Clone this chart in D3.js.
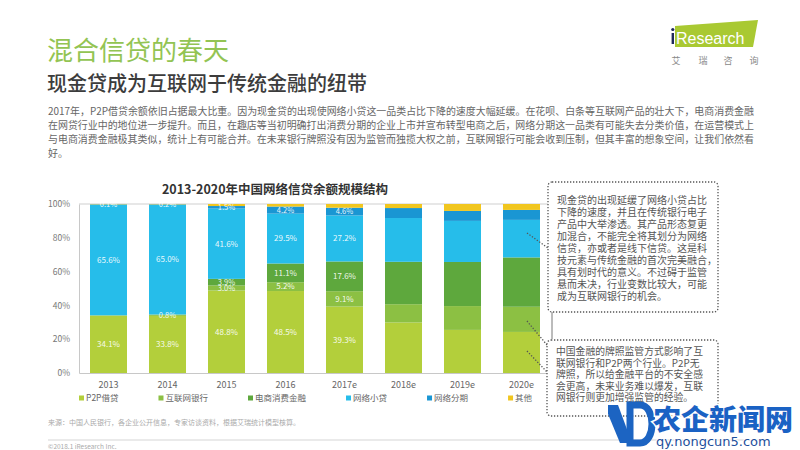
<!DOCTYPE html>
<html><head><meta charset="utf-8">
<script src="https://cdn.jsdelivr.net/npm/d3@7"></script>
<style>
html,body{margin:0;padding:0;background:#fff;}
svg{display:block;font-family:"Noto Sans CJK SC","Noto Sans",sans-serif;}
</style></head><body>
<svg id="c" width="800" height="450"></svg>
<script>
// ---- data ----
const years = ["2013","2014","2015","2016","2017e","2018e","2019e","2020e"];
const seriesNames = ["P2P借贷","互联网银行","电商消费金融","网络小贷","网络分期","其他"];
const p2p     = [34.1, 33.8, 48.8, 48.5, 39.3, 29.9, 25.5, 24.3];
const bank    = [0,    0.8,  3.0,  5.2,  9.1,  10.8, 14.1, 14.9];
const ecom    = [0,    0,    3.9,  11.1, 17.6, 25.1, 26.1, 29.2];
const micro   = [65.6, 65.0, 41.6, 29.5, 27.2, 25.9, 24.3, 22.2];
const install = [0.1,  0.2,  1.5,  4.2,  4.6,  5.9,  5.9,  5.9];
const other   = [0.2,  0.2,  1.2,  1.5,  2.2,  2.4,  4.1,  3.5];
const labeledYears = ["2013","2014","2015","2016","2017e"];
const yTicks = [0, 20, 40, 60, 80, 100];
const colors = ["#b3cf3b","#8cc043","#5ea83d","#26bdea","#1a96d3","#f1c61f"];

const paragraph = [
  "2017年，P2P借贷余额依旧占据最大比重。因为现金贷的出现使网络小贷这一品类占比下降的速度大幅延缓。在花呗、白条等互联网产品的壮大下，电商消费金融",
  "在网贷行业中的地位进一步提升。而且，在趣店等当初明确打出消费分期的企业上市并宣布转型电商之后，网络分期这一品类有可能失去分类价值，在运营模式上",
  "与电商消费金融极其类似，统计上有可能合并。在未来银行牌照没有因为监管而独揽大权之前，互联网银行可能会收到压制，但其丰富的想象空间，让我们依然看",
  "好。"
];
const note1 = [
  "现金贷的出现延缓了网络小贷占比",
  "下降的速度，并且在传统银行电子",
  "产品中大举渗透。其产品形态复更",
  "加混合，不能完全将其划分为网络",
  "信贷，亦或者是线下信贷。这是科",
  "技元素与传统金融的首次完美融合，",
  "具有划时代的意义。不过碍于监管",
  "悬而未决，行业变数比较大，可能",
  "成为互联网银行的机会。"
];
const note2 = [
  "中国金融的牌照监管方式影响了互",
  "联网银行和P2P两个行业。P2P无",
  "牌照，所以给金融平台的不安全感",
  "会更高，未来业务难以爆发，互联",
  "网银行则更加增强监管的经验。"
];

// ---- build ----
const svg = d3.select("#c");
const rows = years.map((y,i)=>({year:y, s0:p2p[i], s1:bank[i], s2:ecom[i], s3:micro[i], s4:install[i], s5:other[i]}));
const keys = ["s0","s1","s2","s3","s4","s5"];
const stacked = d3.stack().keys(keys)(rows);

const x = d3.scaleBand().domain(years).range([79, 551]).paddingInner(0.373).paddingOuter(0.1865);
const y = d3.scaleLinear().domain([0,100]).range([373, 204]);

// header
svg.append("text").attr("x",47).attr("y",60).attr("font-size",26).attr("fill","#93c453").text("混合信贷的春天");
svg.append("text").attr("x",47).attr("y",91).attr("font-size",20).attr("font-weight",500).attr("fill","#3c3c3c").text("现金贷成为互联网于传统金融的纽带");

// iResearch logo
svg.append("path").attr("d","M675,26 L758,20 L753,47 L675,47 Z").attr("fill","#a9c932");
svg.append("circle").attr("cx",672.8).attr("cy",29.5).attr("r",1.6).attr("fill","#1f2a5a");
svg.append("rect").attr("x",671.6).attr("y",33).attr("width",2.4).attr("height",11).attr("fill","#1f2a5a");
svg.append("text").attr("x",676).attr("y",43.5).attr("font-family","Liberation Sans, Arial").attr("font-size",16).attr("fill","#ffffff").text("Research");
["艾","瑞","咨","询"].forEach((c,i)=>{
  svg.append("text").attr("x",[676,703,728,754][i]).attr("y",64).attr("text-anchor","middle").attr("font-size",9).attr("fill","#888").text(c);
});

// paragraph
paragraph.forEach((line,i)=>{
  const t = svg.append("text").attr("x",48).attr("y",114.5+i*14).attr("font-size",10).attr("fill","#666").text(line);
  if(i<3) t.attr("textLength",706).attr("lengthAdjust","spacingAndGlyphs");
});

// chart title
svg.append("text").attr("x",275).attr("y",194).attr("text-anchor","middle").attr("font-size",12.5).attr("font-weight",700).attr("fill","#333").text("2013-2020年中国网络信贷余额规模结构");

// top gridline
svg.append("line").attr("x1",79).attr("x2",551).attr("y1",y(100)).attr("y2",y(100)).attr("stroke","#cfcfcf");

// bars
const g = svg.append("g");
stacked.forEach((layer,li)=>{
  g.selectAll(null).data(layer).enter().append("rect")
    .attr("x",d=>x(d.data.year)).attr("width",x.bandwidth())
    .attr("y",d=>y(d[1])).attr("height",d=>Math.max(0,y(d[0])-y(d[1])))
    .attr("fill",colors[li]);
});
// value labels
stacked.forEach((layer,li)=>{
  if(li===5) return;
  layer.forEach(d=>{
    const v = d[1]-d[0];
    if(v<=0 || !labeledYears.includes(d.data.year)) return;
    g.append("text").attr("x",x(d.data.year)+x.bandwidth()/2).attr("y",(y(d[0])+y(d[1]))/2)
      .attr("dy","0.35em").attr("text-anchor","middle").attr("font-size",v<5?7.5:8).attr("fill","#ffffff").attr("fill-opacity",0.92)
      .text(v.toFixed(1)+"%");
  });
});

// axes
const ya = svg.append("g").attr("transform","translate(79,0)")
  .call(d3.axisLeft(y).tickValues(yTicks).tickFormat(d=>d+"%").tickSize(0).tickPadding(9));
ya.select(".domain").attr("stroke","#c8c8c8");
ya.selectAll("text").attr("font-size",8.5).attr("fill","#777").attr("font-family","Noto Sans CJK SC");
const xa = svg.append("g").attr("transform","translate(0,373)")
  .call(d3.axisBottom(x).tickSize(0).tickSizeOuter(0).tickPadding(9));
xa.select(".domain").attr("stroke","#c8c8c8");
xa.selectAll("text").attr("font-size",9).attr("fill","#666").attr("font-family","Noto Sans CJK SC");

// legend
let lx = 79;
seriesNames.forEach((n,i)=>{
  svg.append("rect").attr("x",lx).attr("y",395.5).attr("width",5).attr("height",5).attr("fill",colors[i]);
  const t = svg.append("text").attr("x",lx+7).attr("y",401.3).attr("font-size",8.5).attr("fill","#666").text(n);
  lx += 7 + t.node().getComputedTextLength() + 40;
});

// annotation boxes
const dot = {stroke:"#555","stroke-width":1.3,"stroke-dasharray":"1.3,1.7",fill:"none"};
function applyAttrs(sel,o){ for(const k in o) sel.attr(k,o[k]); return sel; }
applyAttrs(svg.append("rect").attr("x",548).attr("y",182).attr("width",170).attr("height",130).attr("rx",4),dot).attr("fill","#fff");
note1.forEach((l,i)=>svg.append("text").attr("x",557).attr("y",203.5+i*12.1).attr("font-size",10).attr("fill","#555").text(l));
applyAttrs(svg.append("rect").attr("x",547).attr("y",340).attr("width",171).attr("height",76).attr("rx",4),dot).attr("fill","#fff");
note2.forEach((l,i)=>svg.append("text").attr("x",556).attr("y",355+i*11.6).attr("font-size",9.8).attr("fill","#555").text(l));
applyAttrs(svg.append("line").attr("x1",527).attr("y1",233).attr("x2",548).attr("y2",248),dot);
applyAttrs(svg.append("line").attr("x1",527).attr("y1",321).attr("x2",547).attr("y2",345),dot);
applyAttrs(svg.append("line").attr("x1",527).attr("y1",351).attr("x2",547).attr("y2",372),dot);
svg.append("line").attr("x1",552).attr("y1",312).attr("x2",552).attr("y2",339).attr("stroke","#555").attr("stroke-width",0.8);

// footer
svg.append("text").attr("x",48).attr("y",425).attr("font-size",7).attr("fill","#aaa").text("来源：中国人民银行，各企业公开信息，专家访谈资料，根据艾瑞统计模型核算。");
svg.append("line").attr("x1",48).attr("x2",760).attr("y1",440).attr("y2",440).attr("stroke","#d5d5d5");
svg.append("text").attr("x",48).attr("y",448.5).attr("font-size",6.5).attr("fill","#aaa").text("©2018.1 iResearch Inc.");

// watermark
const wm = svg.append("g");
wm.append("path").attr("d","M608,405 L618,405 L628,432 L628,443 L620,443 L608,414 Z").attr("fill","#1c64c2");
wm.append("path").attr("d","M630,405 L640,405 C656,405 656,443 640,443 L630,443 Z").attr("fill","none").attr("stroke","#1c64c2").attr("stroke-width",7);
wm.append("text").attr("x",653).attr("y",430).attr("font-size",28).attr("font-weight",900).attr("fill","#1a62c4")
  .attr("stroke","#fff").attr("stroke-width",3).attr("paint-order","stroke").text("农企新闻网");
wm.append("text").attr("x",656).attr("y",446).attr("font-family","DejaVu Sans").attr("font-size",13).attr("fill","#1d4f9c")
  .attr("stroke","#fff").attr("stroke-width",2).attr("paint-order","stroke").text("qy.nongcun5.com");
</script>
</body></html>
